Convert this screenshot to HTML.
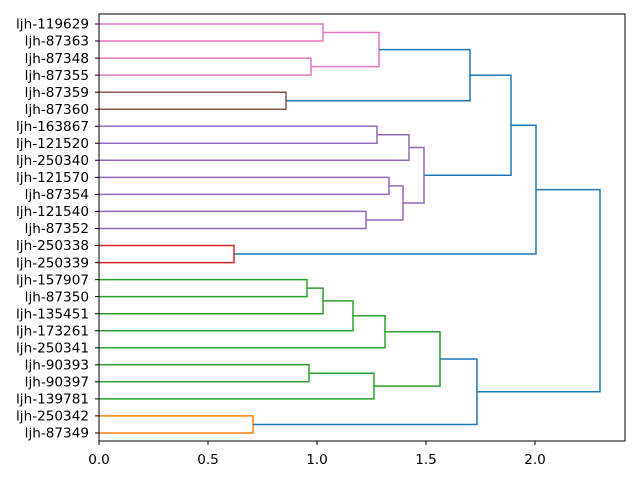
<!DOCTYPE html>
<html><head><meta charset="utf-8"><style>body{margin:0;background:#fff}</style></head><body>
<svg width="640" height="480" xmlns="http://www.w3.org/2000/svg" font-family="DejaVu Sans, Liberation Sans, sans-serif" font-size="13.6">
<g fill="none" stroke-width="1.5">
<g stroke="#e377c2">
<path d="M99,24 H323 V41 H99"/><path d="M99,58.1 H311 V75.1 H99"/><path d="M323,32.5 H379 V66.6 H311"/>
</g>
<path stroke="#8c564b" d="M99,92.2 H286 V109.2 H99"/>
<g stroke="#9467bd">
<path d="M99,126.2 H377 V143.3 H99"/><path d="M377,134.8 H409 V160.3 H99"/>
<path d="M99,177.4 H389 V194.4 H99"/><path d="M99,211.4 H366 V228.5 H99"/>
<path d="M389,185.9 H403 V220 H366"/><path d="M409,147.5 H424 V203 H403"/>
</g>
<path stroke="#d62728" d="M99,245.5 H234 V262.6 H99"/>
<g stroke="#2ca02c">
<path d="M99,279.6 H307 V296.6 H99"/><path d="M307,288.1 H323 V313.7 H99"/>
<path d="M323,300.9 H353 V330.7 H99"/><path d="M353,315.8 H385 V347.8 H99"/>
<path d="M99,364.8 H309 V381.8 H99"/><path d="M309,373.3 H374 V398.9 H99"/>
<path d="M385,331.8 H440 V386.1 H374"/>
</g>
<path stroke="#ff7f0e" d="M99,415.9 H253 V433 H99"/>
<g stroke="#1f77b4">
<path d="M379,49.6 H470 V100.7 H286"/><path d="M470,75.2 H511 V175.2 H424"/>
<path d="M511,125.2 H536 V254 H234"/><path d="M440,359 H477 V424.5 H253"/>
<path d="M536,189.6 H600 V391.7 H477"/>
</g>
</g>
<rect x="99" y="14" width="526" height="427" fill="none" stroke="#000" stroke-width="1"/>
<g stroke="#000">
<path d="M99,441v4M208,441v4M317,441v4M426,441v4M535,441v4"/>
<path d="M99,24h-4M99,41h-4M99,58.1h-4M99,75.1h-4M99,92.2h-4M99,109.2h-4M99,126.2h-4M99,143.3h-4M99,160.3h-4M99,177.4h-4M99,194.4h-4M99,211.4h-4M99,228.5h-4M99,245.5h-4M99,262.6h-4M99,279.6h-4M99,296.6h-4M99,313.7h-4M99,330.7h-4M99,347.8h-4M99,364.8h-4M99,381.8h-4M99,398.9h-4M99,415.9h-4M99,433h-4"/>
</g>
<g text-anchor="middle">
<text x="99" y="464">0.0</text><text x="208" y="464">0.5</text><text x="317" y="464">1.0</text><text x="426" y="464">1.5</text><text x="535" y="464">2.0</text>
</g>
<g text-anchor="end">
<text x="89" y="28.7">ljh-119629</text><text x="89" y="45.7">ljh-87363</text><text x="89" y="62.8">ljh-87348</text><text x="89" y="79.8">ljh-87355</text><text x="89" y="96.9">ljh-87359</text><text x="89" y="113.9">ljh-87360</text><text x="89" y="130.9">ljh-163867</text><text x="89" y="148">ljh-121520</text><text x="89" y="165">ljh-250340</text><text x="89" y="182.1">ljh-121570</text><text x="89" y="199.1">ljh-87354</text><text x="89" y="216.1">ljh-121540</text><text x="89" y="233.2">ljh-87352</text><text x="89" y="250.2">ljh-250338</text><text x="89" y="267.3">ljh-250339</text><text x="89" y="284.3">ljh-157907</text><text x="89" y="301.3">ljh-87350</text><text x="89" y="318.4">ljh-135451</text><text x="89" y="335.4">ljh-173261</text><text x="89" y="352.5">ljh-250341</text><text x="89" y="369.5">ljh-90393</text><text x="89" y="386.5">ljh-90397</text><text x="89" y="403.6">ljh-139781</text><text x="89" y="420.6">ljh-250342</text><text x="89" y="437.7">ljh-87349</text>
</g>
</svg>
</body></html>
